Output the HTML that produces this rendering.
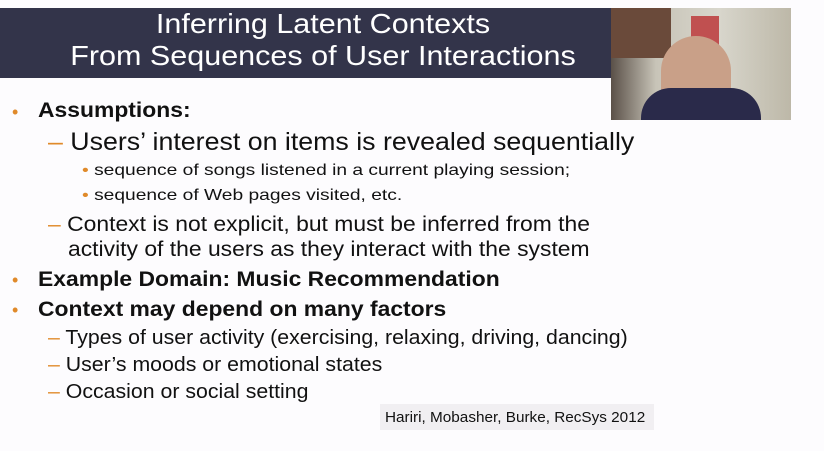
<!DOCTYPE html>
<html><head><meta charset="utf-8"><style>
body{margin:0;width:824px;height:451px;background:#fdfcfe;overflow:hidden;position:relative;font-family:"Liberation Sans",sans-serif;color:#111}
.a{position:absolute;white-space:nowrap;line-height:1;transform-origin:0 50%}
.o{color:#e08a2a}
</style></head><body>
<div style="position:absolute;left:0;top:8px;width:611px;height:70px;background:#33344a"></div>
<div class="a" style="left:0;width:646px;text-align:center;top:10px;font-size:28px;color:#fff;transform-origin:50% 50%;transform:scaleX(1.09)">Inferring Latent Contexts</div>
<div class="a" style="left:0;width:646px;text-align:center;top:42px;font-size:28px;color:#fff;transform-origin:50% 50%;transform:scaleX(1.09)">From Sequences of User Interactions</div>
<div style="position:absolute;left:611px;top:8px;width:180px;height:112px;background:linear-gradient(90deg,#5a5048 0%,#c8c4b8 25%,#d8d6cc 60%,#bdb8a8 100%);overflow:hidden">
 <div style="position:absolute;left:0;top:0;width:60px;height:50px;background:#6a4a3a"></div>
 <div style="position:absolute;left:80px;top:8px;width:28px;height:45px;background:#c05050"></div>
 <div style="position:absolute;left:50px;top:28px;width:70px;height:84px;border-radius:35px 35px 0 0;background:#c9a088"></div>
 <div style="position:absolute;left:30px;top:80px;width:120px;height:40px;border-radius:30px 30px 0 0;background:#2a2a4a"></div>
</div>
<div class="a o" style="left:12px;top:103px;font-size:18px">•</div>
<div class="a" style="left:38px;top:100px;font-size:21px;font-weight:bold;transform:scaleX(1.09)">Assumptions:</div>
<div class="a" style="left:48px;top:130px;font-size:25px;transform:scaleX(1.07)"><span class="o">–</span> Users’ interest on items is revealed sequentially</div>
<div class="a" style="left:82px;top:163px;font-size:16px;transform:scaleX(1.2)"><span class="o">•</span> sequence of songs listened in a current playing session;</div>
<div class="a" style="left:82px;top:188px;font-size:16px;transform:scaleX(1.2)"><span class="o">•</span> sequence of Web pages visited, etc.</div>
<div class="a" style="left:48px;top:214px;font-size:21px;transform:scaleX(1.09)"><span class="o">–</span> Context is not explicit, but must be inferred from the</div>
<div class="a" style="left:68px;top:239px;font-size:21px;transform:scaleX(1.09)">activity of the users as they interact with the system</div>
<div class="a o" style="left:12px;top:271px;font-size:18px">•</div>
<div class="a" style="left:38px;top:269px;font-size:21px;font-weight:bold;transform:scaleX(1.09)">Example Domain: Music Recommendation</div>
<div class="a o" style="left:12px;top:301px;font-size:18px">•</div>
<div class="a" style="left:38px;top:299px;font-size:21px;font-weight:bold;transform:scaleX(1.09)">Context may depend on many factors</div>
<div class="a" style="left:48px;top:328px;font-size:20px;transform:scaleX(1.065)"><span class="o">–</span> Types of user activity (exercising, relaxing, driving, dancing)</div>
<div class="a" style="left:48px;top:355px;font-size:20px;transform:scaleX(1.065)"><span class="o">–</span> User’s moods or emotional states</div>
<div class="a" style="left:48px;top:382px;font-size:20px;transform:scaleX(1.065)"><span class="o">–</span> Occasion or social setting</div>
<div style="position:absolute;left:380px;top:404px;width:274px;height:26px;background:#f1eff2"></div>
<div class="a" style="left:385px;top:410px;font-size:15px;transform:scaleX(1.02)">Hariri, Mobasher, Burke, RecSys 2012</div>
</body></html>
